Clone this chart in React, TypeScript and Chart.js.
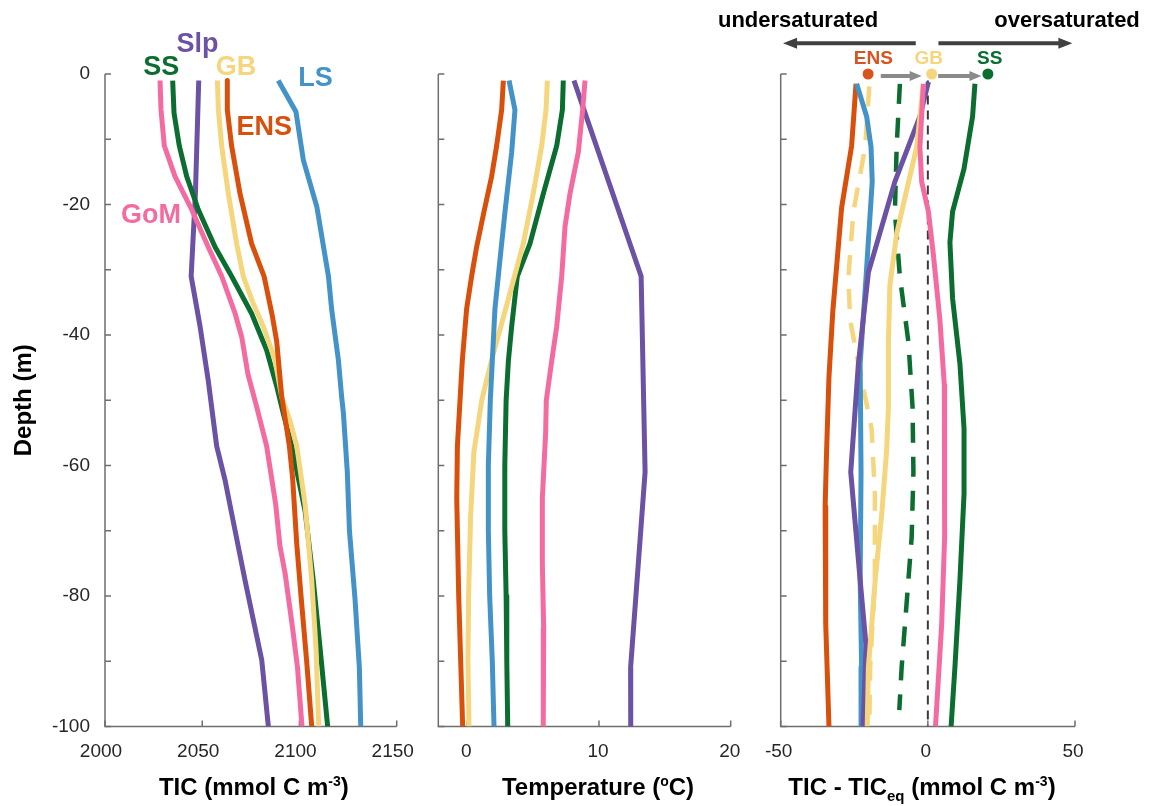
import React, { useEffect, useRef } from 'react';
import { Chart, registerables } from 'chart.js';

Chart.register(...registerables);

const W = 1153;
const H = 806;
const FONT = "'Liberation Sans', Arial, Helvetica, sans-serif";

// ---------- colours ----------
const C_GOM = '#F36BA1';
const C_SS = '#0B6E30';
const C_SLP = '#6B52A4';
const C_GB = '#F5D67C';
const C_ENS = '#D94F0C';
const C_LS = '#4393C9';

// ---------- axes ----------
const depthTicks = [0, -10, -20, -30, -40, -50, -60, -70, -80, -90, -100];
const depthLabelTicks = [0, -20, -40, -60, -80, -100];
const ticTicks = [2000, 2050, 2100, 2150];
const tempTicks = [0, 10, 20];
const diffTicks = [-50, 0, 50];

// ---------- panel 1 : TIC (value, depth) ----------
const ticGoM: [number, number][] = [[2028.3, -1], [2028.8, -5.5], [2030.5, -11], [2036, -15.7], [2044.6, -20.8], [2053.1, -26.5], [2060, -31], [2066.9, -36.7], [2070.3, -40.3], [2073.5, -46], [2078, -51], [2083.1, -57], [2087.8, -66], [2090, -72.4], [2092.6, -76.5], [2096.5, -85], [2099, -91], [2101.3, -100]];
const ticSS: [number, number][] = [[2034.8, -1], [2035.5, -6], [2038.2, -11], [2042, -15.7], [2048, -20.8], [2056.6, -26.5], [2065.1, -31], [2075.4, -36.7], [2083.1, -42.3], [2088.4, -48], [2091.7, -52], [2096, -57], [2102.9, -67], [2107.1, -77.6], [2110.6, -88], [2114.5, -100]];
const ticSlp: [number, number][] = [[2048.2, -1], [2046.5, -18.3], [2044.3, -31], [2048.9, -38.7], [2053.1, -47], [2057.4, -57], [2061.7, -62.2], [2065.1, -67.3], [2072, -77.6], [2080.6, -89.8], [2084, -100]];
const ticGB: [number, number][] = [[2057.8, -1], [2058.3, -5.5], [2060, -11], [2063.4, -18.3], [2067.7, -26], [2071.1, -31], [2076, -35], [2081.4, -38.7], [2087.4, -43.8], [2090.9, -49.5], [2095, -53], [2098.6, -57], [2102.9, -66], [2106.3, -77.6], [2108.5, -88], [2109.9, -100]];
const ticENS: [number, number][] = [[2062.9, -1], [2062.9, -5.5], [2065.1, -11], [2069.4, -18.3], [2075.4, -26], [2081.8, -31], [2086, -37], [2088.3, -41], [2090.9, -49.5], [2094.8, -57], [2096.5, -62], [2098.6, -72], [2100.8, -80], [2103.7, -90], [2106.3, -100]];
const ticLS: [number, number][] = [[2089.1, -1], [2098.2, -5.8], [2102, -13.2], [2108.9, -20.3], [2114.9, -31], [2116.6, -36.2], [2120, -43.8], [2121.7, -49.5], [2122.6, -52], [2124.6, -61], [2125.7, -70], [2128.6, -80.6], [2130.8, -91], [2131.5, -100]];

// ---------- panel 2 : temperature ----------
const tempENS: [number, number][] = [[2.74, -1], [2.61, -5.5], [2.23, -11], [1.85, -15.7], [1.3, -20.8], [0.71, -26.5], [0.33, -31], [-0.05, -36], [-0.38, -44], [-0.55, -50], [-0.75, -57], [-0.8, -65], [-0.65, -80], [-0.5, -90], [-0.35, -100]];
const tempLS: [number, number][] = [[3.17, -1], [3.62, -5.5], [3.37, -12], [2.87, -21], [2.48, -28.5], [2.1, -36], [1.9, -44], [1.75, -50], [1.6, -60], [1.6, -70], [1.7, -80], [1.9, -90], [2.03, -100]];
const tempGB: [number, number][] = [[6.08, -1], [5.98, -5.5], [5.65, -11], [5.01, -18.3], [4.25, -26], [3.24, -33.6], [1.85, -43.8], [1.1, -50], [0.5, -58], [0.25, -68], [0.1, -80], [0.05, -90], [0.13, -100]];
const tempSS: [number, number][] = [[7.29, -1], [7.22, -5.5], [6.79, -11], [5.78, -18.3], [4.76, -26], [3.8, -31], [3.37, -38.7], [3.12, -44], [2.95, -50], [2.85, -60], [2.85, -70], [2.95, -80], [3.0, -90], [3.07, -100]];
const tempGoM: [number, number][] = [[8.94, -1], [8.76, -5.5], [8.43, -12], [7.8, -18.3], [7.42, -23.4], [7.17, -31], [6.79, -38.7], [6.41, -44], [6.0, -50], [5.95, -55], [5.7, -65], [5.7, -75], [5.8, -85], [5.77, -100]];
const tempSlp: [number, number][] = [[8.1, -1], [8.86, -5.5], [13.2, -31], [13.5, -61], [12.4, -91], [12.41, -100]];

// ---------- panel 3 : TIC - TICeq ----------
const diffENS: [number, number][] = [[-24.4, -1.5], [-25.9, -11], [-29.3, -20.5], [-32.3, -36.4], [-33.6, -46.4], [-34.4, -57.7], [-34.9, -66.3], [-34.7, -84.3], [-33.6, -100]];
const diffLS: [number, number][] = [[-24.2, -1.5], [-20.8, -6.5], [-19.3, -11.2], [-18.9, -16.5], [-21, -31.1], [-23, -44.4], [-22.7, -61], [-23, -77.6], [-22.5, -90.9], [-22.7, -100]];
const diffSlp: [number, number][] = [[0.2, -1.2], [-2.7, -6.5], [-11.2, -16.5], [-20.2, -30.4], [-23.6, -44.4], [-26.2, -61], [-23, -77.6], [-21, -87.6], [-22, -100]];
const diffGB: [number, number][] = [[-1.5, -1.5], [-3.8, -11.2], [-7.2, -17.8], [-10.6, -24.5], [-12.9, -32.4], [-13.4, -41.1], [-13.4, -51], [-14, -57.7], [-15.7, -67.6], [-17.9, -77.6], [-20.2, -90.9], [-20.6, -100]];
const diffGBdash: [number, number][] = [[-19.9, -1.9], [-21.3, -11.2], [-25.3, -21.1], [-27, -31.1], [-26.4, -37.7], [-23.6, -44.4], [-19.1, -54.4], [-18, -64.3], [-18, -77.6], [-19.6, -90.9], [-19.9, -100]];
const diffSSdash: [number, number][] = [[-9.5, -1.5], [-10.6, -11.2], [-11.2, -21.1], [-9.5, -31.1], [-6.6, -41.1], [-5.2, -51], [-4.9, -61], [-5.5, -71], [-7.2, -81], [-8.9, -90.9], [-9.7, -97.5]];
const diffGoM: [number, number][] = [[-1.5, -1.5], [-2.7, -11.2], [-2.1, -16.5], [0.2, -21.1], [1.9, -27.8], [4.1, -37.7], [5.6, -47.7], [5.8, -57.7], [5.6, -71], [4.7, -84.3], [2.6, -100]];
const diffSS: [number, number][] = [[16, -1.5], [15.2, -6.5], [12.3, -14.5], [8.4, -21.1], [7.5, -25.8], [8.4, -34.4], [10.9, -44.4], [12.3, -54.4], [12.3, -64.3], [10.9, -77.6], [9.2, -90.9], [7.9, -100]];
const diffZero: [number, number][] = [[0, -1], [0, -100]];

// surface markers (ENS -> GB -> SS)
const dotNames = ['ENS', 'GB', 'SS'];
const dotX = [-20.3, 1.3, 20.4];
const dotY = [0, 0, 0];
const dotColors = ['#D9531E', '#F5D67C', '#0B6E30'];
const dotLabelX = [-18.5, 0.3, 21.0];

const pts = (a: [number, number][]) => a.map(([x, y]) => ({ x, y }));

const line = (data: [number, number][], color: string, dash: number[] = [], width = 5) => ({
  data: pts(data),
  showLine: true,
  borderColor: color,
  backgroundColor: color,
  borderWidth: width,
  borderDash: dash,
  pointRadius: 0,
  fill: false,
  tension: 0,
  borderJoinStyle: 'round' as const,
});

const AXIS_COLOR = '#6e6e6e';
const TEXT_COLOR = '#262626';
const PLOT_TOP = 74;
const PLOT_BOTTOM = 726.5;

const axesPlugin = {
  id: 'matlabAxes',
  beforeDatasetsDraw(chart: any) {
    const { ctx, chartArea, scales } = chart;
    const { left, right, top, bottom } = chartArea;
    const xt: number[] = chart.options.plugins.matlabAxes.xTicks;
    ctx.save();
    ctx.strokeStyle = AXIS_COLOR;
    ctx.lineWidth = 1.5;
    ctx.beginPath();
    ctx.moveTo(left, top);
    ctx.lineTo(left, bottom);
    ctx.lineTo(right, bottom);
    ctx.stroke();
    ctx.beginPath();
    depthTicks.forEach((v) => {
      const p = scales.y.getPixelForValue(v);
      ctx.moveTo(left, p);
      ctx.lineTo(left + 6, p);
    });
    xt.forEach((v) => {
      const p = scales.x.getPixelForValue(v);
      ctx.moveTo(p, bottom);
      ctx.lineTo(p, bottom - 6);
    });
    ctx.stroke();
    ctx.restore();
  },
};

type Run = { t: string; size: number; dy: number };
function drawRuns(ctx: CanvasRenderingContext2D, runs: Run[], cx: number, base: number) {
  let total = 0;
  runs.forEach((r) => {
    ctx.font = `bold ${r.size}px ${FONT}`;
    total += ctx.measureText(r.t).width;
  });
  let x = cx - total / 2;
  ctx.textAlign = 'left';
  ctx.textBaseline = 'alphabetic';
  runs.forEach((r) => {
    ctx.font = `bold ${r.size}px ${FONT}`;
    ctx.fillText(r.t, x, base + r.dy);
    x += ctx.measureText(r.t).width;
  });
}

function arrow(ctx: CanvasRenderingContext2D, x0: number, x1: number, y: number, color: string, lw: number, hl: number, hw: number) {
  const dir = Math.sign(x1 - x0);
  ctx.save();
  ctx.strokeStyle = color;
  ctx.fillStyle = color;
  ctx.lineWidth = lw;
  ctx.beginPath();
  ctx.moveTo(x0, y);
  ctx.lineTo(x1 - dir * hl * 0.8, y);
  ctx.stroke();
  ctx.beginPath();
  ctx.moveTo(x1, y);
  ctx.lineTo(x1 - dir * hl, y - hw);
  ctx.lineTo(x1 - dir * hl, y + hw);
  ctx.closePath();
  ctx.fill();
  ctx.restore();
}

// annotation text in data coordinates: [text, x, depth(baseline), colour]
const ticLabels: [string, number, number, string][] = [
  ['SS', 2028.9, -0.15, C_SS],
  ['Slp', 2047.6, 3.3, C_SLP],
  ['GB', 2067.4, -0.15, C_GB],
  ['LS', 2108.3, -1.8, C_LS],
  ['ENS', 2081.9, -9.35, C_ENS],
  ['GoM', 2023.6, -22.8, C_GOM],
];

const panel1Plugin = {
  id: 'panel1Text',
  afterDraw(chart: any) {
    const { ctx, scales, chartArea } = chart;
    ctx.save();
    ctx.font = `bold 27px ${FONT}`;
    ctx.textAlign = 'center';
    ctx.textBaseline = 'alphabetic';
    ticLabels.forEach(([t, x, d, c]) => {
      ctx.fillStyle = c;
      ctx.fillText(t, scales.x.getPixelForValue(x), scales.y.getPixelForValue(d));
    });
    ctx.fillStyle = '#000';
    drawRuns(ctx, [
      { t: 'TIC (mmol C m', size: 24, dy: 0 },
      { t: '-3', size: 14, dy: -9 },
      { t: ')', size: 24, dy: 0 },
    ], (chartArea.left + chartArea.right) / 2 + 3, 795);
    ctx.translate(31, (chartArea.top + chartArea.bottom) / 2);
    ctx.rotate(-Math.PI / 2);
    ctx.font = `bold 24px ${FONT}`;
    ctx.textAlign = 'center';
    ctx.fillText('Depth (m)', 0, 0);
    ctx.restore();
  },
};

const panel2Plugin = {
  id: 'panel2Text',
  afterDraw(chart: any) {
    const { ctx } = chart;
    ctx.save();
    ctx.fillStyle = '#000';
    drawRuns(ctx, [
      { t: 'Temperature (', size: 24, dy: 0 },
      { t: 'o', size: 14, dy: -9 },
      { t: 'C)', size: 24, dy: 0 },
    ], 598, 795);
    ctx.restore();
  },
};

const panel3Plugin = {
  id: 'panel3Text',
  afterDraw(chart: any) {
    const { ctx, scales } = chart;
    const X = (v: number) => scales.x.getPixelForValue(v);
    const Y = (v: number) => scales.y.getPixelForValue(v);
    ctx.save();
    ctx.fillStyle = '#000';
    drawRuns(ctx, [
      { t: 'TIC - TIC', size: 24, dy: 0 },
      { t: 'eq', size: 15, dy: 6 },
      { t: ' (mmol C m', size: 24, dy: 0 },
      { t: '-3', size: 14, dy: -9 },
      { t: ')', size: 24, dy: 0 },
    ], 922, 795);

    // saturation arrows + text
    arrow(ctx, X(-4.1), X(-49.2), Y(4.7), '#404040', 4, 14, 5.5);
    arrow(ctx, X(3.6), X(49.1), Y(4.7), '#404040', 4, 14, 5.5);
    ctx.font = `bold 22px ${FONT}`;
    ctx.fillStyle = '#000';
    ctx.textBaseline = 'alphabetic';
    ctx.textAlign = 'right';
    ctx.fillText('undersaturated', X(-16.9), Y(7.25));
    ctx.textAlign = 'center';
    ctx.fillText('oversaturated', X(47.3), Y(7.25));

    // ENS -> GB -> SS arrows
    arrow(ctx, X(-16.0), X(-2.1), Y(-0.3), '#8a8a8a', 4, 12, 5);
    arrow(ctx, X(3.5), X(18.2), Y(-0.3), '#8a8a8a', 4, 12, 5);

    ctx.font = `bold 19px ${FONT}`;
    ctx.textAlign = 'center';
    dotNames.forEach((n, i) => {
      ctx.fillStyle = dotColors[i];
      ctx.fillText(n, X(dotLabelX[i]), Y(1.55));
    });
    ctx.restore();
  },
};

function makeConfig(
  datasets: any[],
  left: number,
  right: number,
  xmin: number,
  xmax: number,
  xTicks: number[],
  showY: boolean,
  labelOffset: number,
  extra: any,
) {
  return {
    type: 'scatter' as const,
    data: { datasets },
    options: {
      animation: false as const,
      responsive: false,
      events: [],
      layout: { padding: { left: 0, right: W - right, top: PLOT_TOP, bottom: 0 } },
      plugins: {
        legend: { display: false },
        tooltip: { enabled: false },
        matlabAxes: { xTicks },
      },
      scales: {
        x: {
          type: 'linear' as const,
          min: xmin,
          max: xmax,
          afterBuildTicks: (s: any) => {
            s.ticks = xTicks.map((v) => ({ value: v }));
          },
          afterFit: (s: any) => {
            s.height = H - PLOT_BOTTOM;
          },
          grid: { display: false, drawTicks: false },
          border: { display: false },
          ticks: {
            font: { family: FONT, size: 19 },
            color: TEXT_COLOR,
            padding: 14,
            labelOffset,
            maxRotation: 0,
            autoSkip: false,
            callback: (v: any) => String(v),
          },
        },
        y: {
          type: 'linear' as const,
          min: -100,
          max: 0,
          afterBuildTicks: (s: any) => {
            s.ticks = depthLabelTicks.map((v) => ({ value: v }));
          },
          afterFit: (s: any) => {
            s.width = left;
          },
          grid: { display: false, drawTicks: false },
          border: { display: false },
          ticks: {
            display: showY,
            font: { family: FONT, size: 19 },
            color: TEXT_COLOR,
            padding: 15,
            autoSkip: false,
            callback: (v: any) => String(v),
          },
        },
      },
    },
    plugins: [axesPlugin, extra],
  };
}

export default function App() {
  const r1 = useRef<HTMLCanvasElement>(null);
  const r2 = useRef<HTMLCanvasElement>(null);
  const r3 = useRef<HTMLCanvasElement>(null);

  useEffect(() => {
    const c1 = new Chart(
      r1.current as HTMLCanvasElement,
      makeConfig(
        [
          line(ticLS, C_LS),
          line(ticENS, C_ENS),
          line(ticGB, C_GB),
          line(ticSS, C_SS),
          line(ticGoM, C_GOM),
          line(ticSlp, C_SLP),
        ],
        105, 396.7, 2000, 2150, ticTicks, true, -4, panel1Plugin,
      ) as any,
    );
    const c2 = new Chart(
      r2.current as HTMLCanvasElement,
      makeConfig(
        [
          line(tempENS, C_ENS),
          line(tempLS, C_LS),
          line(tempGB, C_GB),
          line(tempSS, C_SS),
          line(tempGoM, C_GOM),
          line(tempSlp, C_SLP),
        ],
        438.3, 730.7, -2.2, 20, tempTicks, false, -1, panel2Plugin,
      ) as any,
    );
    const c3 = new Chart(
      r3.current as HTMLCanvasElement,
      makeConfig(
        [
          {
            data: dotX.map((x, i) => ({ x, y: dotY[i] })),
            showLine: false,
            pointRadius: 5.5,
            pointBackgroundColor: dotColors,
            pointBorderColor: dotColors,
            pointBorderWidth: 0,
            clip: false,
          },
          line(diffGoM, C_GOM),
          line(diffSS, C_SS),
          line(diffGB, C_GB),
          line(diffSlp, C_SLP),
          line(diffLS, C_LS),
          line(diffENS, C_ENS),
          line(diffZero, '#3a3a3a', [9, 6], 2),
          line(diffSSdash, C_SS, [20, 14], 4.5),
          line(diffGBdash, C_GB, [20, 14], 4.5),
        ],
        780.7, 1075, -50, 50, diffTicks, false, -2, panel3Plugin,
      ) as any,
    );
    return () => {
      c1.destroy();
      c2.destroy();
      c3.destroy();
    };
  }, []);

  const cs: React.CSSProperties = { position: 'absolute', left: 0, top: 0 };
  return (
    <div style={{ position: 'absolute', left: 0, top: 0, width: W, height: H, background: '#fff', overflow: 'hidden' }}>
      <canvas ref={r1} width={W} height={H} style={cs} />
      <canvas ref={r2} width={W} height={H} style={cs} />
      <canvas ref={r3} width={W} height={H} style={cs} />
    </div>
  );
}
